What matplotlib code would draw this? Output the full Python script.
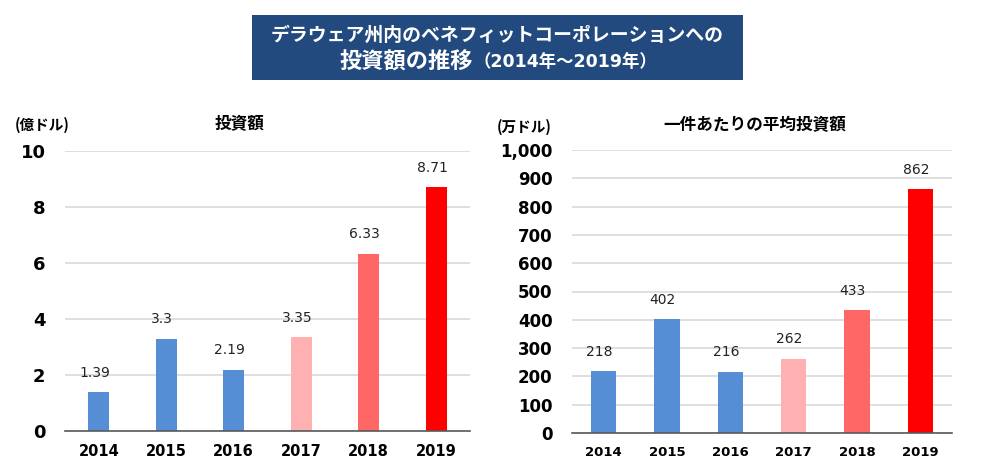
import matplotlib
matplotlib.use("Agg")
import matplotlib.pyplot as plt
from matplotlib.patches import Rectangle

years = ["2014", "2015", "2016", "2017", "2018", "2019"]
total_investment = [1.39, 3.3, 2.19, 3.35, 6.33, 8.71]
total_labels = ["1.39", "3.3", "2.19", "3.35", "6.33", "8.71"]
avg_investment = [218, 402, 216, 262, 433, 862]
avg_labels = ["218", "402", "216", "262", "433", "862"]
bar_colors = ["#558ED5", "#558ED5", "#558ED5", "#FFB0B0", "#FF6666", "#FF0000"]
left_yticks = [0, 2, 4, 6, 8, 10]
right_yticks = list(range(0, 1001, 100))

title_line1 = "デラウェア州内のベネフィットコーポレーションへの"
title_line2a = "投資額の推移"
title_line2b = "（2014年～2019年）"
left_title = "投資額"
left_unit = "(億ドル)"
right_title = "一件あたりの平均投資額"
right_unit = "(万ドル)"

CJK = ["Noto Sans CJK JP", "DejaVu Sans"]
NUM = ["DejaVu Sans"]
NUM_CJK = ["DejaVu Sans", "Noto Sans CJK JP"]

W, H = 995, 466
fig = plt.figure(figsize=(W / 100, H / 100), dpi=100)
fig.patch.set_facecolor("white")

def fx(px):
    return px / W

def fy(py):
    return 1 - py / H

# Title box
fig.patches.append(Rectangle((fx(252), fy(80)), fx(743) - fx(252), fy(15) - fy(80),
                             transform=fig.transFigure, facecolor="#224A7E",
                             edgecolor="none", zorder=0))
fig.text(fx(497), fy(35), title_line1, ha="center", va="center", color="white",
         fontsize=13.6, fontweight="bold", family=CJK)
fig.text(fx(473), fy(62), title_line2a, ha="right", va="center", color="white",
         fontsize=16, fontweight="bold", family=CJK)
fig.text(fx(474), fy(62), title_line2b, ha="left", va="center", color="white",
         fontsize=12.5, fontweight="bold", family=NUM_CJK)


def draw(ax, vals, labels, yticks, ymax, width, ytick_fs, xtick_fs, tick_fmt):
    x = range(len(years))
    ax.bar(x, vals, width=width, color=bar_colors, edgecolor="none", zorder=3)
    ax.set_xlim(-0.5, len(years) - 0.5)
    ax.set_ylim(0, ymax)
    ax.set_yticks(yticks)
    ax.set_yticklabels([tick_fmt(t) for t in yticks], fontsize=ytick_fs,
                       fontweight="bold", family=NUM)
    ax.set_xticks(list(x))
    ax.set_xticklabels(years, fontsize=xtick_fs, fontweight="bold", family=NUM)
    ax.tick_params(axis="both", length=0)
    ax.tick_params(axis="x", pad=9)
    ax.tick_params(axis="y", pad=14)
    ax.grid(axis="y", color="#D9D9D9", linewidth=1.2, zorder=0)
    for s in ["top", "right", "left"]:
        ax.spines[s].set_visible(False)
    ax.spines["bottom"].set_color("#595959")
    ax.spines["bottom"].set_linewidth(1.2)
    ax.spines["bottom"].set_zorder(4)
    for xi, v, lab in zip(x, vals, labels):
        ax.annotate(lab, (xi, v), xytext=(-3, 9), textcoords="offset points",
                    ha="center", va="bottom", fontsize=10, family=NUM, color="#222222")


axL = fig.add_axes([fx(65), fy(431), fx(470) - fx(65), fy(151) - fy(431)])
draw(axL, total_investment, total_labels, left_yticks, 10, 0.31, 13, 10.5,
     lambda t: f"{t:d}")
axR = fig.add_axes([fx(572), fy(433), fx(952) - fx(572), fy(150) - fy(433)])
draw(axR, avg_investment, avg_labels, right_yticks, 1000, 0.4, 12, 9.5,
     lambda t: f"{t:,d}")

fig.text(fx(240), fy(124), left_title, ha="center", va="center", fontsize=12,
         fontweight="bold", family=CJK)
fig.text(fx(15), fy(125), left_unit, ha="left", va="center", fontsize=10.5,
         fontweight="bold", family=CJK)
fig.text(fx(755), fy(125), right_title, ha="center", va="center", fontsize=12,
         fontweight="bold", family=CJK)
fig.text(fx(497), fy(127), right_unit, ha="left", va="center", fontsize=10.5,
         fontweight="bold", family=CJK)

fig.savefig("out.png", dpi=100)
